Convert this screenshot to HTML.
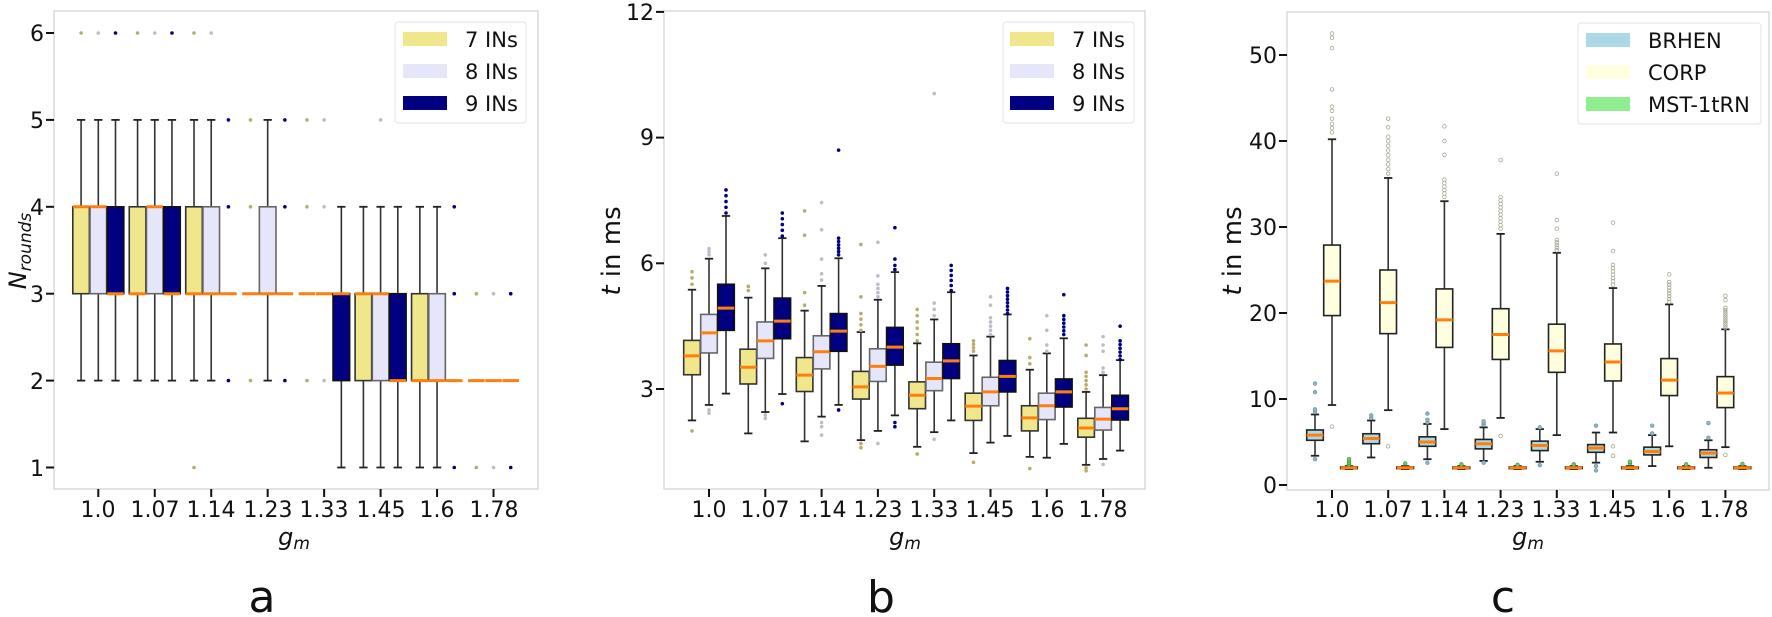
<!DOCTYPE html>
<html><head><meta charset="utf-8">
<style>
html,body{margin:0;padding:0;background:#fff;}
svg{display:block;}
text{font-family:"DejaVu Sans","Liberation Sans",sans-serif;fill:#111;}
</style></head>
<body>
<svg id="s" width="1772" height="617" viewBox="0 0 1772 617" xmlns="http://www.w3.org/2000/svg">
<rect width="1772" height="617" fill="#fff"/>
<rect x="54" y="11" width="484" height="478" fill="none" stroke="#d0d0d0" stroke-width="1.2"/>
<rect x="664" y="11" width="481" height="478" fill="none" stroke="#d0d0d0" stroke-width="1.2"/>
<rect x="1287" y="12" width="482" height="478" fill="none" stroke="#d0d0d0" stroke-width="1.2"/>
<g id="plots"></g>
<g font-size="22" text-anchor="end">
<text x="44" y="41">6</text><text x="44" y="128">5</text><text x="44" y="215">4</text>
<text x="44" y="302">3</text><text x="44" y="389">2</text><text x="44" y="476">1</text>
<text x="654" y="20">12</text><text x="654" y="145">9</text><text x="654" y="271">6</text><text x="654" y="397">3</text>
<text x="1277" y="63">50</text><text x="1277" y="149">40</text><text x="1277" y="235">30</text>
<text x="1277" y="321">20</text><text x="1277" y="407">10</text><text x="1277" y="493">0</text>
</g>
<g font-size="22" text-anchor="middle">
<text x="98" y="517">1.0</text><text x="155" y="517">1.07</text><text x="211" y="517">1.14</text><text x="268" y="517">1.23</text>
<text x="324" y="517">1.33</text><text x="381" y="517">1.45</text><text x="437" y="517">1.6</text><text x="494" y="517">1.78</text>
<text x="709" y="517">1.0</text><text x="765" y="517">1.07</text><text x="822" y="517">1.14</text><text x="878" y="517">1.23</text>
<text x="934" y="517">1.33</text><text x="990" y="517">1.45</text><text x="1047" y="517">1.6</text><text x="1103" y="517">1.78</text>
<text x="1332" y="517">1.0</text><text x="1388" y="517">1.07</text><text x="1444" y="517">1.14</text><text x="1500" y="517">1.23</text>
<text x="1556" y="517">1.33</text><text x="1612" y="517">1.45</text><text x="1668" y="517">1.6</text><text x="1724" y="517">1.78</text>
</g>
<g font-size="24" text-anchor="middle">
<text x="294" y="545" font-style="italic">g<tspan font-size="17" dy="4">m</tspan></text>
<text x="905" y="545" font-style="italic">g<tspan font-size="17" dy="4">m</tspan></text>
<text x="1528" y="545" font-style="italic">g<tspan font-size="17" dy="4">m</tspan></text>
<text transform="translate(26,251) rotate(-90)" font-style="italic">N<tspan font-size="17" dy="5">rounds</tspan></text>
<text transform="translate(620,251) rotate(-90)" font-size="26"><tspan font-style="italic">t</tspan> in ms</text>
<text transform="translate(1241,251) rotate(-90)" font-size="26"><tspan font-style="italic">t</tspan> in ms</text>
</g>
<g font-size="44" text-anchor="middle">
<text x="262" y="612">a</text><text x="881" y="612">b</text><text x="1503" y="612">c</text>
</g>
<rect x="395" y="22" width="131" height="101" rx="3" fill="#fff" stroke="#e3e3e3"/>
<rect x="403" y="32" width="44" height="14" fill="#f0e68c"/><rect x="403" y="64" width="44" height="14" fill="#e6e6fa"/><rect x="403" y="96" width="44" height="14" fill="#000080"/>
<g font-size="21"><text x="465" y="47">7 INs</text><text x="465" y="79">8 INs</text><text x="465" y="111">9 INs</text></g>
<rect x="1003" y="22" width="131" height="101" rx="3" fill="#fff" stroke="#e3e3e3"/>
<rect x="1010" y="32" width="44" height="14" fill="#f0e68c"/><rect x="1010" y="64" width="44" height="14" fill="#e6e6fa"/><rect x="1010" y="96" width="44" height="14" fill="#000080"/>
<g font-size="21"><text x="1072" y="47">7 INs</text><text x="1072" y="79">8 INs</text><text x="1072" y="111">9 INs</text></g>
<rect x="1578" y="23" width="183" height="101" rx="3" fill="#fff" stroke="#e3e3e3"/>
<rect x="1586" y="33" width="44" height="14" fill="#add8e6"/><rect x="1586" y="65" width="44" height="14" fill="#ffffe0"/><rect x="1586" y="97" width="44" height="14" fill="#90ee90"/>
<g font-size="21"><text x="1648" y="48">BRHEN</text><text x="1648" y="80">CORP</text><text x="1648" y="112">MST-1tRN</text></g>
</svg>
<script>
(function(){
var G=document.getElementById("plots"),h="";
function L(x1,y1,x2,y2,c,w){h+='<line x1="'+x1+'" y1="'+y1+'" x2="'+x2+'" y2="'+y2+'" stroke="'+c+'" stroke-width="'+w+'"/>';}
function R(x,y,w,hh,f,s,sw){h+='<rect x="'+x+'" y="'+y+'" width="'+w+'" height="'+hh+'" fill="'+f+'" stroke="'+s+'" stroke-width="'+sw+'"/>';}
function C(x,y,r,f,s){h+='<circle cx="'+x+'" cy="'+y+'" r="'+r+'" fill="'+f+'" stroke="'+s+'" stroke-width="0.8"/>';}
function rng(a,b,n){var o=[];for(var i=0;i<n;i++)o.push(a+(b-a)*i/(Math.max(n-1,1)));return o;}
function box(cx,w,d,Y,fill,edge,fc,fs,fr){
 var q1=d[0],q3=d[1],med=d[2],lo=d[3],hi=d[4],fl=d[5]||[];
 var x0=cx-w/2,x1=cx+w/2;
 if(hi>q3){L(cx,Y(q3),cx,Y(hi),"#333",1.6);L(cx-w/4,Y(hi),cx+w/4,Y(hi),"#222",1.8);}
 if(lo<q1){L(cx,Y(q1),cx,Y(lo),"#333",1.6);L(cx-w/4,Y(lo),cx+w/4,Y(lo),"#222",1.8);}
 if(q3>q1)R(x0,Y(q3),w,Y(q1)-Y(q3),fill,edge,1.6);
 fl.forEach(function(v){C(cx,Y(v),fr,fc,fs);});
 L(x0,Y(med),x1,Y(med),"#ff7f0e",3);
}
function xt(x0,sp,yb){for(var i=0;i<8;i++){var x=x0+i*sp;L(x,yb,x,yb+8,"#111",2);}}
xt(98.3,56.46,489);xt(709,56.3,489);xt(1332,56.2,490);
[6,5,4,3,2,1].forEach(function(v){var y=33+(6-v)*86.9;L(46,y,54,y,"#111",2);});
[12,9,6,3].forEach(function(v){var y=514.7-41.9*v;L(656,y,664,y,"#111",2);});
[50,40,30,20,10,0].forEach(function(v){var y=485-8.6*v;L(1279,y,1287,y,"#111",2);});
var Ya=function(v){return 33+(6-v)*86.9;};
var A=[
[[3,4,4,2,5,[6]],[3,4,4,2,5,[6]],[3,4,3,2,5,[6]]],
[[3,4,3,2,5,[6]],[3,4,4,2,5,[6]],[3,4,3,2,5,[6]]],
[[3,4,3,2,5,[6,1]],[3,4,3,2,5,[6]],[3,3,3,3,3,[5,4,2]]],
[[3,3,3,3,3,[5,4,2]],[3,4,3,2,5,[]],[3,3,3,3,3,[5,4,2]]],
[[3,3,3,3,3,[5,4,2]],[3,3,3,3,3,[5,4,2]],[2,3,3,1,4,[]]],
[[2,3,3,1,4,[]],[2,3,3,1,4,[5]],[2,3,2,1,4,[]]],
[[2,3,2,1,4,[]],[2,3,2,1,4,[]],[2,2,2,2,2,[4,3,1]]],
[[2,2,2,2,2,[3,1]],[2,2,2,2,2,[3,1]],[2,2,2,2,2,[3,1]]]];
var fills=["#f0e68c","#e6e6fa","#000080"],edges=["#333","#666","#111"],fcs=["#b8ac6c","#bcbccc","#000080"];
A.forEach(function(g,i){g.forEach(function(d,s){box(98.3+i*56.46+(s-1)*17.2,16.6,d,Ya,fills[s],edges[s],fcs[s],"none",1.8);});});
var Yb=function(v){return 514.7-41.9*v;};
var B=[
[[3.34,4.16,3.79,2.25,5.37,rng(5.5,5.8,3).concat([2.0])],[3.86,4.78,4.34,2.62,6.11,rng(6.2,6.35,3).concat([2.42,2.5])],[4.40,5.50,4.93,2.89,7.13,rng(7.2,7.75,5)]],
[[3.12,3.95,3.52,1.94,5.18,[5.35,5.45]],[3.73,4.6,4.15,2.45,5.88,[6.0,6.2,2.3,2.38]],[4.2,5.17,4.62,2.88,6.6,rng(6.65,7.2,5).concat([2.65])]],
[[2.94,3.75,3.33,1.75,4.87,[5.0,5.3,6.67,7.25]],[3.48,4.27,3.89,2.34,5.46,[5.6,5.75,6.1,6.8,7.45,2.1,2.2,1.9]],[3.9,4.8,4.38,2.62,6.12,rng(6.2,6.6,6).concat([8.7,2.5])]],
[[2.76,3.42,3.05,1.78,4.36,rng(4.4,4.8,4).concat([5.2,6.45,1.6,1.7])],[3.18,3.96,3.54,2.0,5.13,rng(5.2,5.5,4).concat([5.7,6.5,1.7])],[3.57,4.47,4.0,2.37,5.79,[5.85,5.95,6.1,6.85,2.1,2.2]]],
[[2.53,3.17,2.85,1.62,4.09,rng(4.15,4.9,6).concat([1.45])],[2.96,3.64,3.25,1.97,4.66,[4.75,4.9,5.05,10.05,1.8]],[3.25,4.08,3.67,2.25,5.31,rng(5.35,5.95,6)]],
[[2.25,2.9,2.59,1.47,3.8,rng(3.9,4.15,4).concat([1.25])],[2.6,3.28,2.93,1.72,4.25,rng(4.3,4.7,5).concat([5.0,5.2])],[2.93,3.68,3.3,1.88,4.78,rng(4.8,5.4,8)]],
[[2.0,2.6,2.31,1.38,3.46,[3.6,3.75,4.2,1.1]],[2.27,2.9,2.6,1.36,3.85,[3.9,4.05,4.4,4.75]],[2.57,3.24,2.93,1.69,4.21,rng(4.3,4.75,6).concat([5.25])]],
[[1.85,2.3,2.07,1.19,2.93,rng(3.0,3.4,5).concat([3.8,4.05,1.05,1.12])],[2.02,2.56,2.28,1.33,3.33,[3.4,3.5,3.9,4.05,4.25,1.2]],[2.26,2.85,2.53,1.53,3.69,rng(3.7,4.15,6).concat([4.5])]]];
B.forEach(function(g,i){g.forEach(function(d,s){box(709+i*56.3+(s-1)*17,16.6,d,Yb,fills[s],edges[s],fcs[s],"none",1.8);});});
var Yc=function(v){return 485-8.6*v;};
var Cd=[
[[5.2,6.4,5.8,3.4,8.2,[8.5,8.8,10.8,11.8,3.0]],[19.7,27.9,23.7,9.3,40.2,[41,41.5,42,42.6,43.5,44,46,50.8,52,52.5,6.8]],[1.9,2.1,2.0,1.85,2.2,[2.4,2.6,2.8,3.0]]],
[[4.8,5.96,5.4,3.2,7.5,[7.8,8.1]],[17.6,25.0,21.2,8.7,35.7,rng(36.2,40.5,9).concat([41.6,42.6,4.5])],[1.9,2.1,2.0,1.85,2.2,[2.5]]],
[[4.5,5.6,5.0,3.0,7.1,[7.3,7.6,8.3,2.6]],[16.0,22.8,19.2,6.5,33.0,rng(33.5,35.5,6).concat([38.4,40,41.7])],[1.9,2.1,2.0,1.85,2.2,[2.4]]],
[[4.2,5.3,4.8,2.8,6.7,[7.0,7.2,7.4,2.6]],[14.6,20.5,17.5,7.8,29.2,rng(29.8,33.5,10).concat([37.8,5.7])],[1.9,2.1,2.0,1.85,2.2,[2.35]]],
[[4.0,5.1,4.6,2.7,6.5,[6.7,2.3]],[13.1,18.7,15.6,5.8,27.0,rng(27.3,28.5,5).concat([29.8,30.8,36.2])],[1.9,2.1,2.0,1.85,2.2,[2.4]]],
[[3.8,4.7,4.3,2.6,6.1,[6.9,2.2,1.7]],[12.1,16.4,14.3,6.1,22.9,rng(23.3,25.6,7).concat([27.2,30.5,4.5,3.4])],[1.9,2.1,2.0,1.85,2.2,[2.5,2.7]]],
[[3.5,4.4,3.9,2.2,5.8,[6.0,6.9]],[10.4,14.7,12.2,4.5,21.0,rng(21.3,23.6,8).concat([24.5])],[1.9,2.1,2.0,1.85,2.2,[2.4]]],
[[3.2,4.1,3.7,2.0,5.2,[5.5,7.2]],[9.0,12.6,10.7,4.4,18.1,rng(18.3,20.6,10).concat([21.5,22,3.5])],[1.9,2.1,2.0,1.85,2.2,[2.45]]]];
var cf=["#add8e6","#ffffe0","#90ee90"],cfc=["#8fb5c4","none","#6fcf6f"],cfs=["#7a9aa8","#a8a890","#4a9a4a"];
Cd.forEach(function(g,i){g.forEach(function(d,s){box(1332+i*56.2+(s-1)*17,16.6,d,Yc,cf[s],"#222",cfc[s],cfs[s],1.8);});});
G.innerHTML=h;
})();
</script>
</body></html>
